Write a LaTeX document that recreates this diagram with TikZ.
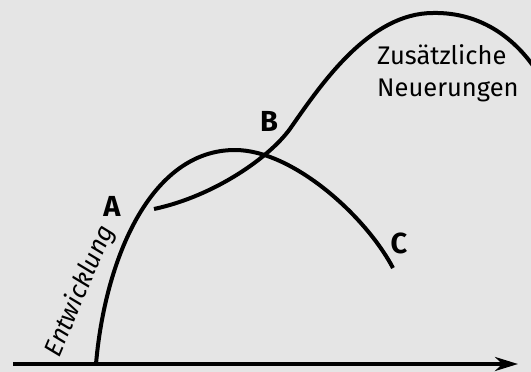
\documentclass[tikz,border=0pt]{standalone}
\usepackage{fontspec}
\setmainfont{Fira Sans}
\usetikzlibrary{arrows.meta}
\definecolor{hintergrund}{gray}{0.9}

\begin{document}
\begin{tikzpicture}[x=1pt,y=-1pt,
    kurve/.style={line width=4pt},
    marke/.style={font=\fontsize{29}{32}\selectfont\bfseries},
    beschriftung/.style={font=\fontsize{25.5}{32}\selectfont}]

    % Hintergrund
    \fill[hintergrund] (0,0) rectangle (531,372);
    \useasboundingbox (0,0) rectangle (531,372);
    \clip (0,0) rectangle (531,372);

    % Punkte
    \coordinate (O) at (13,364);
    \coordinate (X) at (518,364);
    \coordinate (S1) at (96,364);
    \coordinate (P1) at (235,150);
    \coordinate (E1) at (393,268);
    \coordinate (S2) at (154,209);
    \coordinate (M2) at (292,126);
    \coordinate (P2) at (433,13);
    \coordinate (E2) at (545,85);

    % Beschriftungen
    \node[marke] (labA) at (112,206) {A};
    \node[marke] (labB) at (269,121) {B};
    \node[marke] (labC) at (399,243) {C};
    \node[beschriftung, align=left, anchor=north west, inner sep=0pt] (neu) at (377,44)
        {Zusätzliche\\Neuerungen};
    \node[beschriftung, font=\fontsize{25.5}{32}\selectfont\itshape, rotate=67] (entw) at (80,291)
        {Entwicklung};

    % Linien
    \draw [line width=4.5pt, -{Stealth[length=23pt,width=14pt]}] (O) -- (X);
    \draw [kurve] (S1) .. controls (105,260) and (150,150) .. (P1)
                       .. controls (292,150) and (365,215) .. (E1);
    \draw [kurve] (S2) .. controls (215,196) and (272,156) .. (M2)
                       .. controls (322,83) and (370,13) .. (P2)
                       .. controls (480,12) and (520,38) .. (E2);

\end{tikzpicture}
\end{document}
